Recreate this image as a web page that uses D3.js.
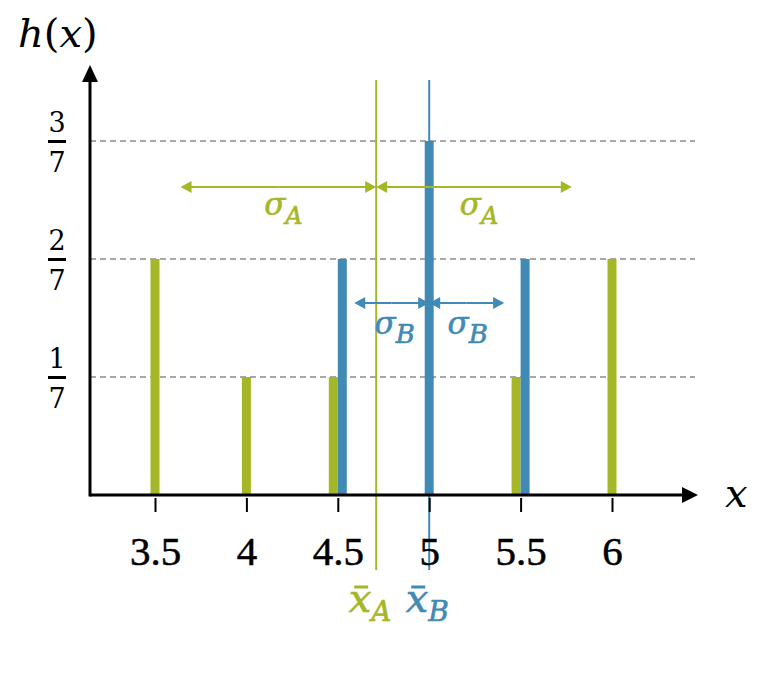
<!DOCTYPE html>
<html>
<head>
<meta charset="utf-8">
<script src="https://cdn.jsdelivr.net/npm/d3@7"></script>
<style>
  html, body { margin: 0; padding: 0; background: #fff; }
  svg { display: block; }
  text { font-family: "DejaVu Serif", serif; }
</style>
</head>
<body>
<svg id="chart" width="771" height="692"></svg>
<script>
// ---- data ----
const xTicks = [3.5, 4, 4.5, 5, 5.5, 6];
const xTickLabels = ["3.5", "4", "4.5", "5", "5.5", "6"];
const yTickNumerators = [1, 2, 3];
const yDenominator = 7;
const seriesAX = [3.5, 4, 4.5, 5.5, 6];
const seriesAH = [2, 1, 1, 1, 2];      // in sevenths
const seriesBX = [4.5, 5, 5.5];
const seriesBH = [2, 3, 2];            // in sevenths
const meanA = 4.71, meanB = 5;
const sigmaA = 1.07, sigmaB = 0.41;

const green = "#a5b726", blue = "#418ab5", grey = "#8a8a8a";

const svg = d3.select("#chart");
const x = d3.scaleLinear().domain([3.5, 6]).range([155, 612]);
const y = d3.scaleLinear().domain([0, 3 / 7]).range([495, 141]);
const x0 = 90, xEnd = 698, yTop = 65, yBase = 495;
const barW = 9;

// dashed gridlines
svg.append("g").selectAll("line").data(yTickNumerators).join("line")
  .attr("x1", x0).attr("x2", 695)
  .attr("y1", d => y(d / yDenominator)).attr("y2", d => y(d / yDenominator))
  .attr("stroke", grey).attr("stroke-width", 1.6).attr("stroke-dasharray", "6,4");

// bars
const shared = new Set(seriesAX.filter(v => seriesBX.includes(v)));
const aData = seriesAX.map((v, i) => ({ x: v, h: seriesAH[i] / yDenominator }));
const bData = seriesBX.map((v, i) => ({ x: v, h: seriesBH[i] / yDenominator }));
svg.append("g").selectAll("rect").data(aData).join("rect")
  .attr("x", d => shared.has(d.x) ? x(d.x) - barW : x(d.x) - barW / 2)
  .attr("y", d => y(d.h)).attr("width", barW).attr("height", d => y(0) - y(d.h))
  .attr("fill", green);
svg.append("g").selectAll("rect").data(bData).join("rect")
  .attr("x", d => shared.has(d.x) ? x(d.x) : x(d.x) - barW / 2)
  .attr("y", d => y(d.h)).attr("width", barW).attr("height", d => y(0) - y(d.h))
  .attr("fill", blue);

// mean lines
svg.append("line").attr("x1", x(meanA)).attr("x2", x(meanA)).attr("y1", 80).attr("y2", 570)
  .attr("stroke", green).attr("stroke-width", 2);
svg.append("line").attr("x1", x(meanB)).attr("x2", x(meanB)).attr("y1", 80).attr("y2", 570)
  .attr("stroke", blue).attr("stroke-width", 2);

// axes
const axisG = svg.append("g");
axisG.append("line").attr("x1", x0).attr("x2", xEnd - 12).attr("y1", yBase).attr("y2", yBase)
  .attr("stroke", "#000").attr("stroke-width", 3);
axisG.append("path").attr("d", `M${xEnd},${yBase} L${xEnd - 16},${yBase - 8} L${xEnd - 16},${yBase + 8} Z`).attr("fill", "#000");
axisG.append("line").attr("x1", x0).attr("x2", x0).attr("y1", yBase + 1.5).attr("y2", yTop + 12)
  .attr("stroke", "#000").attr("stroke-width", 3);
axisG.append("path").attr("d", `M${x0},${yTop} L${x0 - 8},${yTop + 17} L${x0 + 8},${yTop + 17} Z`).attr("fill", "#000");

// x ticks via d3 axis
const xAxis = d3.axisBottom(x).tickValues(xTicks)
  .tickFormat((d, i) => xTickLabels[i]).tickSize(14).tickPadding(0);
const xg = svg.append("g").attr("transform", "translate(0,498)").call(xAxis);
xg.select(".domain").remove();
xg.selectAll(".tick line").attr("stroke", "#000").attr("stroke-width", 2);
xg.selectAll(".tick text")
  .style("font-family", "'Liberation Serif', serif").style("font-size", "41px")
  .attr("fill", "#000").attr("y", 67).attr("dy", 0)
  .attr("stroke", "#000").attr("stroke-width", 0.5);

// y fraction labels
const yl = svg.append("g").selectAll("g").data(yTickNumerators).join("g")
  .attr("transform", d => `translate(57,${y(d / yDenominator)})`);
yl.append("text").attr("text-anchor", "middle").attr("y", -9).attr("font-size", 27).text(d => d);
yl.append("line").attr("x1", -9).attr("x2", 9).attr("y1", 0.5).attr("y2", 0.5).attr("stroke", "#000").attr("stroke-width", 3);
yl.append("text").attr("text-anchor", "middle").attr("y", 31).attr("font-size", 27).text(yDenominator);

// axis titles
const title = svg.append("text").attr("x", 18).attr("y", 47).attr("font-size", 40).attr("fill", "#000");
title.append("tspan").attr("font-style", "italic").text("h");
title.append("tspan").text("(");
title.append("tspan").attr("font-style", "italic").text("x");
title.append("tspan").text(")");
svg.append("text").attr("x", 725).attr("y", 507).attr("font-size", 40).attr("font-style", "italic").text("x");

// sigma arrows
function arrow(xa, xb, yy, color) {
  const g = svg.append("g");
  const dir = xb > xa ? 1 : -1;
  g.append("line").attr("x1", xa).attr("x2", xb - dir * 8).attr("y1", yy).attr("y2", yy)
    .attr("stroke", color).attr("stroke-width", 2);
  g.append("path").attr("d", `M${xb},${yy} L${xb - dir * 11},${yy - 6} L${xb - dir * 11},${yy + 6} Z`).attr("fill", color);
}
function doubleArrow(xa, xb, yy, color) {
  arrow((xa + xb) / 2, xa, yy, color);
  arrow((xa + xb) / 2, xb, yy, color);
}
const sAy = 187, sBy = 303;
doubleArrow(x(meanA - sigmaA), x(meanA), sAy, green);
doubleArrow(x(meanA), x(meanA + sigmaA), sAy, green);
doubleArrow(x(meanB - sigmaB), x(meanB), sBy, blue);
doubleArrow(x(meanB), x(meanB + sigmaB), sBy, blue);

function sigmaLabel(cx, by, sub, subSize, color) {
  const t = svg.append("text").attr("x", cx).attr("y", by).attr("text-anchor", "middle")
    .attr("font-size", 31).attr("font-style", "italic").attr("fill", color)
    .attr("stroke", color).attr("stroke-width", 0.6);
  t.append("tspan").text("σ");
  t.append("tspan").attr("font-size", subSize).attr("dy", 9).text(sub);
}
sigmaLabel((x(meanA - sigmaA) + x(meanA)) / 2 + 5, 215, "A", 24, green);
sigmaLabel((x(meanA) + x(meanA + sigmaA)) / 2 + 5, 215, "A", 24, green);
sigmaLabel((x(meanB - sigmaB) + x(meanB)) / 2 + 3, 334, "B", 26, blue);
sigmaLabel((x(meanB) + x(meanB + sigmaB)) / 2 + 1, 334, "B", 26, blue);

function meanLabel(cx, sub, color) {
  const g = svg.append("g");
  const t = g.append("text").attr("x", cx).attr("y", 612).attr("text-anchor", "middle")
    .attr("font-size", 40).attr("font-style", "italic").attr("fill", color)
    .attr("stroke", color).attr("stroke-width", 0.6);
  t.append("tspan").text("x");
  t.append("tspan").attr("font-size", 28).attr("dy", 9).text(sub);
  g.append("line").attr("x1", cx - 16).attr("x2", cx - 2).attr("y1", 587).attr("y2", 587)
    .attr("stroke", color).attr("stroke-width", 3);
}
meanLabel(x(meanA) - 6, "A", green);
meanLabel(x(meanB) - 2, "B", blue);
</script>
</body>
</html>
